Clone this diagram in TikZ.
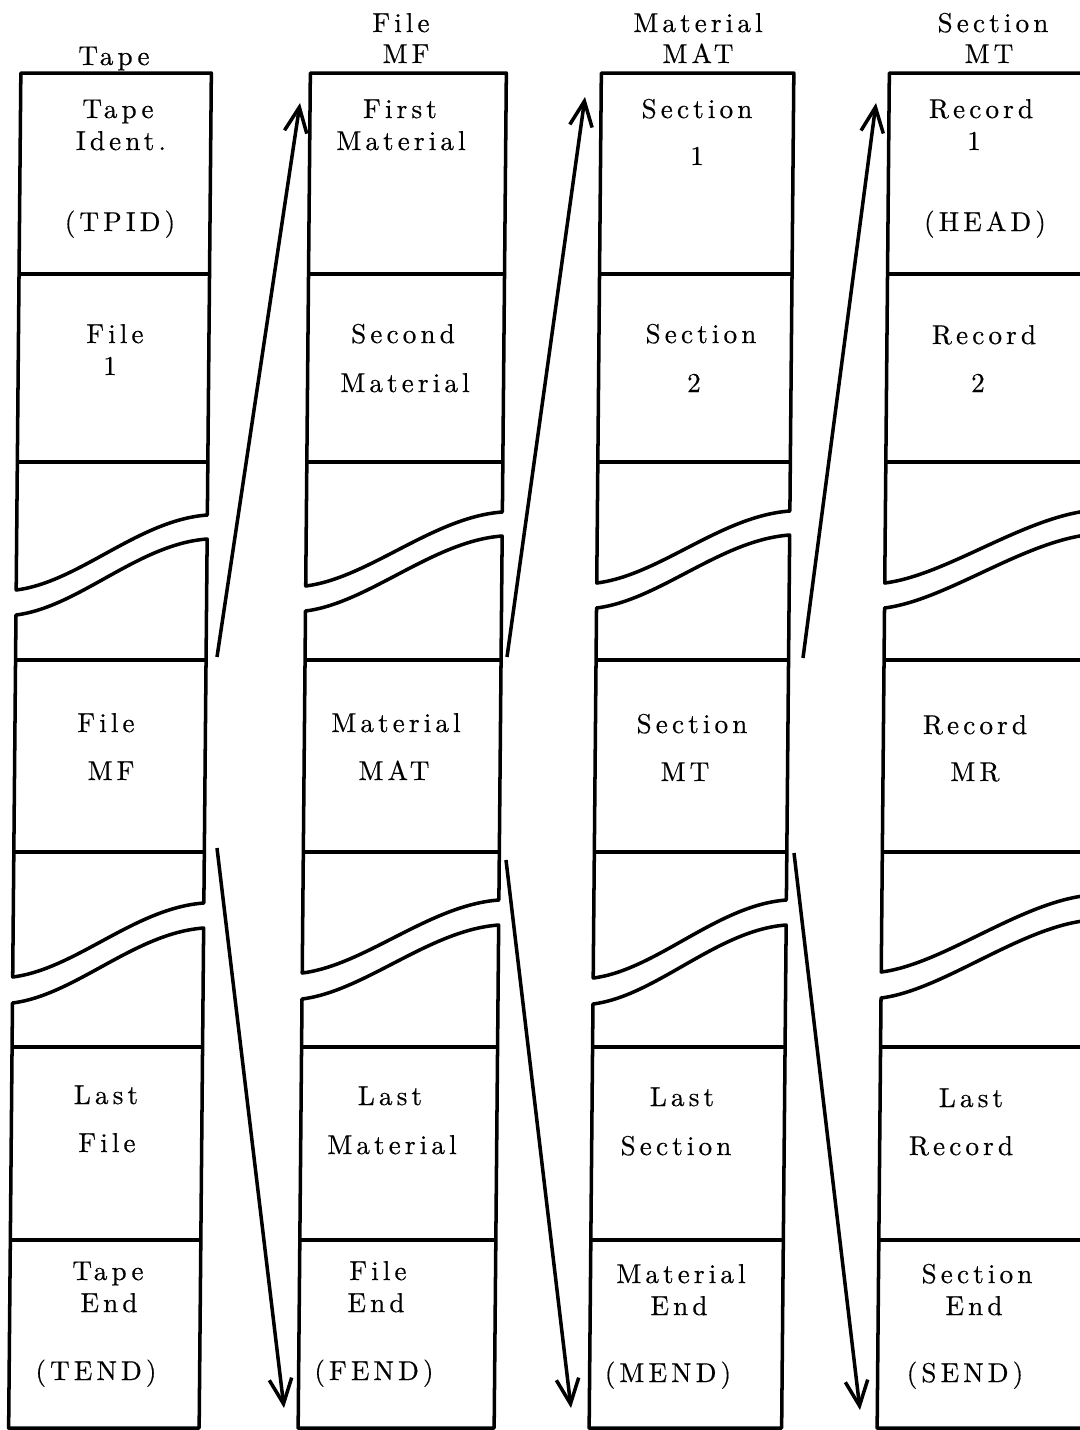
\documentclass[tikz,border=0pt]{standalone}
\usepackage{fontspec}
\usepackage{tikz}
\usetikzlibrary{arrows.meta}
\newfontfamily\tapefont{lmroman10-regular.otf}[LetterSpace=15, FakeBold=0.4]

\begin{document}
\begin{tikzpicture}[x=0.2mm, y=-0.2mm,
  box/.style={line width=2pt, line join=round},
  lbl/.style={font=\tapefont\fontsize{15.5}{18}\selectfont, inner sep=0pt, anchor=base},
  jump/.style={line width=2pt, -{Straight Barb[length=5mm,width=4.5mm]}}]
\useasboundingbox (0,0) rectangle (1080,1430);
\clip (0,0) rectangle (1080,1430);
\fill[white] (0,0) rectangle (1080,1430);

% four strips, leaning a little like the scan
\begin{scope}[xslant=0.009]
\foreach \l/\r/\a/\b/\c/\d in {21.5/212/590/515/977/903, 311/507/586/512/973/900,
  602/794.5/583/511/978/900, 890/1100/583/510/972/895}
{
  \draw[box] (\l,73) -- (\r,73) -- (\r,\b) .. controls +(-69,5) and +(63,-8) .. (\l,\a) -- cycle;
  \draw[box] (\l,{\a+25}) .. controls +(63,-8) and +(-69,5) .. (\r,{\b+24}) -- (\r,\d)
    .. controls +(-69,5) and +(63,-8) .. (\l,\c) -- cycle;
  \draw[box] (\l,{\c+26}) .. controls +(63,-8) and +(-69,5) .. (\r,{\d+25}) -- (\r,1428)
    -- (\l,1428) -- cycle;
  \foreach \y in {274,462,660,852,1047,1240}
    \draw[box] (\l,\y) -- (\r,\y);
}
\end{scope}

% labels
\foreach \x/\y/\t [count=\i] in {114/65/Tape, 401/32/File, 406/63/MF, 698/32/Material, 698/63/MAT,
  993/32/Section, 989/63/MT,
  118/118/Tape, 121/150/Ident., 120/231/(TPID), 115/343/File, 110/375/1, 106/732/File, 111/780/MF,
  106/1104/Last, 107/1152/File, 108/1280/Tape, 109/1312/End, 96/1380/(TEND),
  400/118/First, 401/150/Material, 403/343/Second, 405/392/Material, 396/732/Material, 394/780/MAT,
  390/1105/Last, 392/1154/Material, 378/1280/File, 376/1312/End, 374/1380/(FEND),
  697/118/Section, 697/165/1, 701/343/Section, 694/392/2, 692/733/Section, 685/781/MT,
  682/1106/Last, 676/1155/Section, 681/1283/Material, 679/1315/End, 668/1382/(MEND),
  981/118/Record, 974/150/1, 985/231/(HEAD), 984/344/Record, 978/392/2, 975/734/Record, 975/781/MR,
  971/1107/Last, 961/1155/Record, 977/1283/Section, 974/1315/End, 965/1382/(SEND)}
  \node[lbl] (w\i) at (\x,\y) {\t};

% arrows between the strips
\coordinate (u1a) at (217,657);  \coordinate (u1b) at (300,103);
\coordinate (u2a) at (507,657);  \coordinate (u2b) at (585,97);
\coordinate (u3a) at (803,658);  \coordinate (u3b) at (876,103);
\coordinate (d1a) at (217,848);  \coordinate (d1b) at (284,1408);
\coordinate (d2a) at (506,860);  \coordinate (d2b) at (571,1408);
\coordinate (d3a) at (794,853);  \coordinate (d3b) at (860,1410);
\draw[jump] (u1a) -- (u1b);
\draw[jump] (u2a) -- (u2b);
\draw[jump] (u3a) -- (u3b);
\draw[jump] (d1a) -- (d1b);
\draw[jump] (d2a) -- (d2b);
\draw[jump] (d3a) -- (d3b);
\end{tikzpicture}
\end{document}
